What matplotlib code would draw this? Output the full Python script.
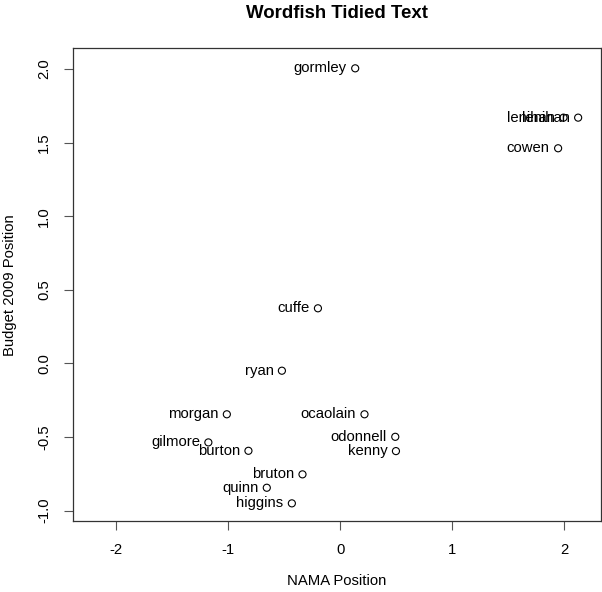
import matplotlib.pyplot as plt
import numpy as np

plt.rcParams["font.family"] = ["Liberation Sans", "DejaVu Sans"]

speakers = ["gormley", "lenihan", "lenihan", "cowen", "cuffe", "ryan", "morgan",
            "ocaolain", "odonnell", "kenny", "gilmore", "burton", "bruton",
            "quinn", "higgins"]
nama_pos = [0.134, 1.995, 2.126, 1.947, -0.199, -0.521, -1.013,
            0.217, 0.492, 0.498, -1.178, -0.820, -0.337,
            -0.656, -0.432]
budget_pos = [2.004, 1.669, 1.669, 1.461, 0.374, -0.050, -0.346,
              -0.346, -0.499, -0.596, -0.537, -0.594, -0.754,
              -0.845, -0.951]
x_ticks = [-2, -1, 0, 1, 2]
y_ticks = [-1.0, -0.5, 0.0, 0.5, 1.0, 1.5, 2.0]

fig = plt.figure(figsize=(6.02, 5.92), dpi=100)
ax = fig.add_axes([0.1208, 0.1199, 0.8775, 0.799])

ax.scatter(nama_pos, budget_pos, s=26, facecolors="none", edgecolors="black",
           linewidths=0.8, zorder=3)
for name, x, y in zip(speakers, nama_pos, budget_pos):
    ax.annotate(name, (x, y), xytext=(-6, -2.9), textcoords="offset points",
                ha="right", va="baseline", fontsize=10.7, color="black")

ax.set_xlim(-2.39, 2.33)
ax.set_ylim(-1.071, 2.142)
ax.set_xticks(x_ticks)
ax.set_xticklabels([str(t) for t in x_ticks])
ax.set_yticks(y_ticks)
ax.set_yticklabels([f"{t:.1f}" for t in y_ticks], rotation=90, va="center")
ax.tick_params(axis="both", direction="out", length=6.5, width=0.8,
               labelsize=10.7, color="#555555")
ax.tick_params(axis="x", pad=9)
ax.tick_params(axis="y", pad=9)
for sp in ax.spines.values():
    sp.set_linewidth(0.9)
    sp.set_color("#333333")

fig.text(0.5595, 1 - 581 / 592, "NAMA Position", ha="center", va="center",
         fontsize=10.7)
fig.text(10 / 602, 1 - 285 / 592, "Budget 2009 Position", ha="center",
         va="center", rotation=90, fontsize=10.7)
fig.text(336.5 / 602, 1 - 13 / 592, "Wordfish Tidied Text", ha="center",
         va="center", fontsize=13.4, fontweight="bold")

fig.savefig("out.png", dpi=100)
